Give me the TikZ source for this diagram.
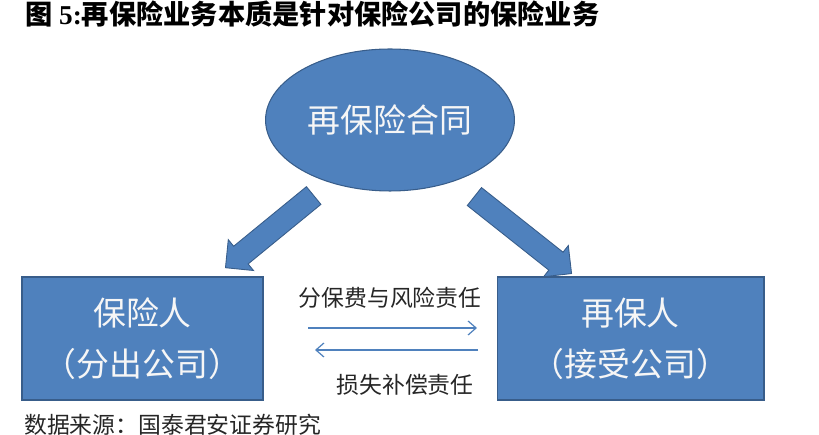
\documentclass[tikz,border=0pt]{standalone}
\usepackage{fontspec}
\setmainfont{Liberation Serif}
\newfontfamily\cjk{Noto Sans CJK SC}
\usetikzlibrary{shapes.geometric, shapes.arrows, arrows.meta, positioning}
\definecolor{boxblue}{HTML}{4F81BD}
\definecolor{boxedge}{HTML}{385D8A}
\definecolor{textwhite}{HTML}{F6F6F6}
\tikzset{
  party/.style={rectangle, minimum height=2.46cm, draw=boxedge, line width=0.6pt, fill=boxblue, text=textwhite, align=center, font=\cjk\fontsize{18.7}{24}\selectfont},
  contract/.style={ellipse, minimum width=4.8cm, minimum height=2.84cm, draw=boxedge, line width=0.6pt, fill=boxblue, text=textwhite, font=\cjk\fontsize{18.7}{22}\selectfont},
  bigarrow/.style={single arrow, draw=boxedge, line width=0.5pt, fill=boxblue, inner xsep=0pt, inner ysep=0.22cm, single arrow head extend=0.17cm},
  flow/.style={draw=boxblue, line width=0.7pt, -{Straight Barb[length=1.6mm, width=2.8mm]}},
  flowtext/.style={font=\cjk\fontsize{13}{15}\selectfont, text=black!85}
}
\begin{document}
\begin{tikzpicture}[x=0.02cm, y=-0.02cm]
        \useasboundingbox (0,0) rectangle (819,435);

        % Titel
        \node (title) [anchor=west, font=\bfseries\fontsize{15.5}{17}\selectfont] at (19,14) {{\cjk 图} 5:{\cjk 再保险业务本质是针对保险公司的保险业务}};

        \node (contract) [contract] at (390,120) {再保险合同};
        \node (cedent) [party, minimum width=4.82cm] at (142.5,338.5) {保险人\\[5pt]（分出公司）};
        \node (reinsurer) [party, minimum width=5.34cm] at (630.5,338.5) {再保人\\[5pt]（接受公司）};

        % Blockpfeile vom Vertrag nach unten
        \node (arrowL) [bigarrow, minimum height=2.28cm, rotate=219.3] at (274,228) {};
        \node (arrowR) [bigarrow, minimum height=2.48cm, rotate=-38.4] at (518.5,231.5) {};

        \node (premium) [flowtext] at (390,298) {分保费与风险责任};
        \node (claims) [flowtext] at (405,385) {损失补偿责任};

        % Pfeile zwischen den Kaesten
        \coordinate (premiumA) at (308,328);
        \coordinate (premiumB) at (477,328);
        \coordinate (claimsA) at (478,350);
        \coordinate (claimsB) at (315,350);
        \draw [flow] (premiumA) -- (premiumB);
        \draw [flow] (claimsA) -- (claimsB);

        \node (source) [flowtext, anchor=west] at (18,425) {数据来源：国泰君安证券研究};

\end{tikzpicture}
\end{document}
